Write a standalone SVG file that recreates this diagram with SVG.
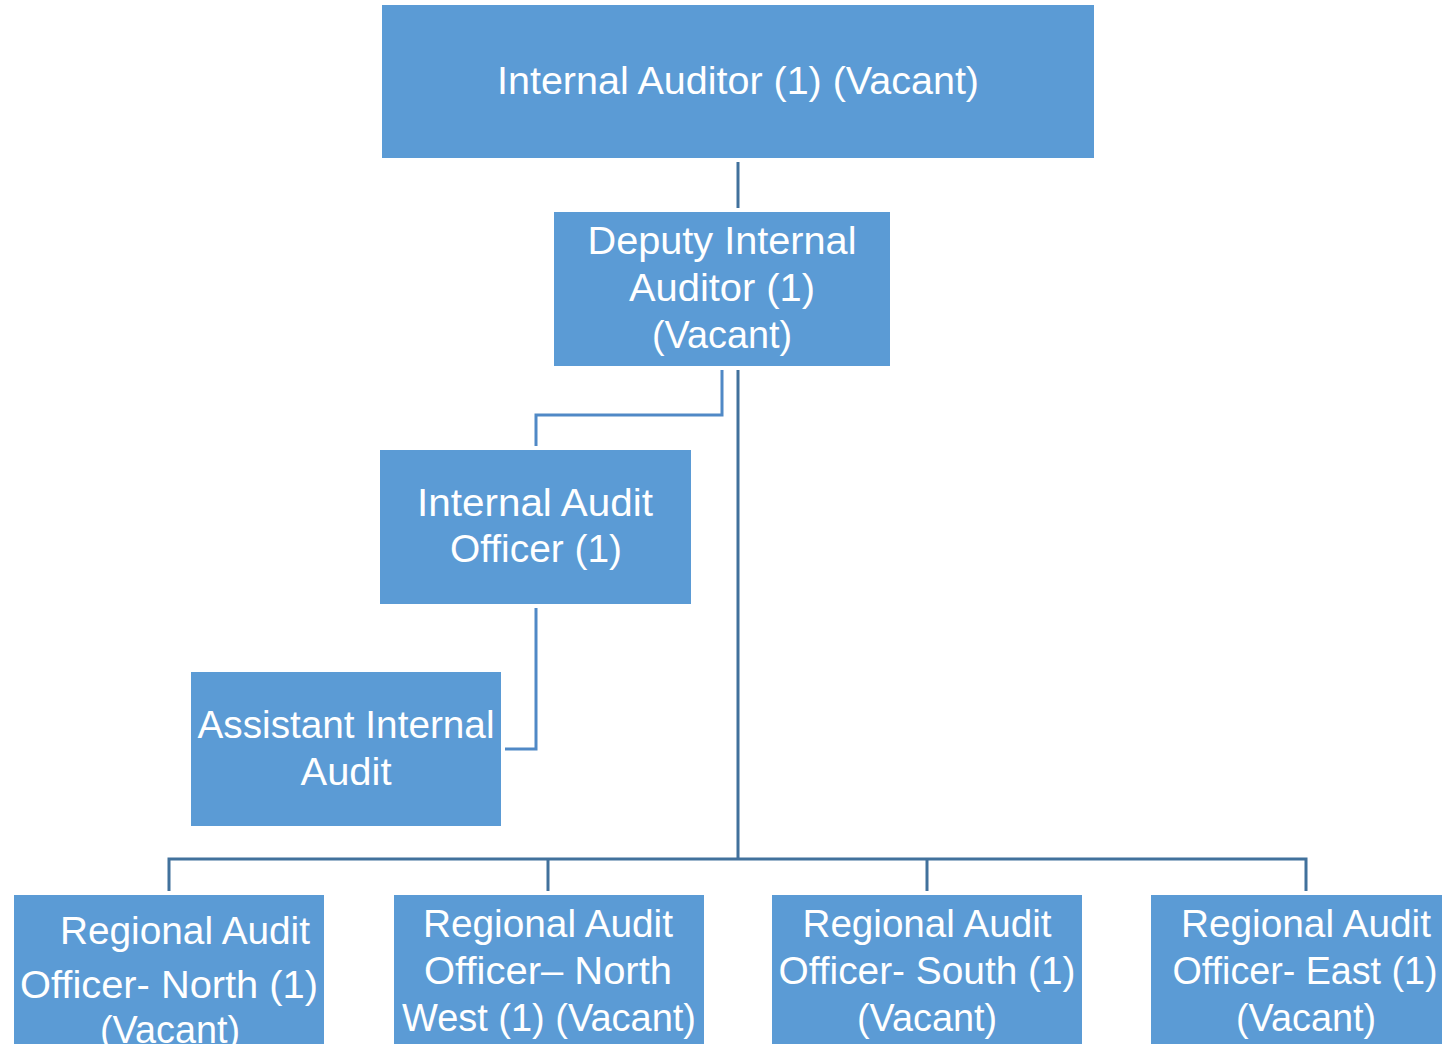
<svg xmlns="http://www.w3.org/2000/svg" width="1442" height="1044" viewBox="0 0 1442 1044">
<style>
.box{fill:#5B9BD5;}
.t{font-family:"Liberation Sans",Arial,sans-serif;font-size:38px;fill:#FFFFFF;text-anchor:middle;}
.c1{stroke:#41719C;stroke-width:3;fill:none;}
.c2{stroke:#5089C6;stroke-width:3;fill:none;}
</style>
<rect width="1442" height="1044" fill="#FFFFFF"/>
<g id="connectors">
<line class="c1" x1="738" y1="162" x2="738" y2="208"/>
<polyline class="c2" points="722,370 722,415 536,415 536,446"/>
<line class="c1" x1="738" y1="370" x2="738" y2="859"/>
<polyline class="c1" points="169,891 169,859 1306,859 1306,891"/>
<line class="c1" x1="548" y1="859" x2="548" y2="891"/>
<line class="c1" x1="927" y1="859" x2="927" y2="891"/>
<polyline class="c2" points="536,608 536,749 505,749"/>
</g>
<g id="internal-auditor">
<rect class="box" x="382" y="5" width="712" height="153"/>
<text class="t" x="738" y="94" textLength="482" lengthAdjust="spacingAndGlyphs">Internal Auditor (1) (Vacant)</text>
</g>
<g id="deputy">
<rect class="box" x="554" y="212" width="336" height="154"/>
<text class="t" x="722" y="254" textLength="269" lengthAdjust="spacingAndGlyphs">Deputy Internal</text>
<text class="t" x="722" y="301" textLength="186" lengthAdjust="spacingAndGlyphs">Auditor (1)</text>
<text class="t" x="722" y="348" textLength="140" lengthAdjust="spacingAndGlyphs">(Vacant)</text>
</g>
<g id="iao">
<rect class="box" x="380" y="450" width="311" height="154"/>
<text class="t" x="535" y="516" textLength="236" lengthAdjust="spacingAndGlyphs">Internal Audit</text>
<text class="t" x="536" y="562" textLength="172" lengthAdjust="spacingAndGlyphs">Officer (1)</text>
</g>
<g id="assistant">
<rect class="box" x="191" y="672" width="310" height="154"/>
<text class="t" x="346" y="738" textLength="297" lengthAdjust="spacingAndGlyphs">Assistant Internal</text>
<text class="t" x="346" y="785" textLength="91" lengthAdjust="spacingAndGlyphs">Audit</text>
</g>
<g id="north">
<rect class="box" x="14" y="895" width="310" height="155"/>
<text class="t" x="185" y="944" textLength="250" lengthAdjust="spacingAndGlyphs">Regional Audit</text>
<text class="t" x="169" y="998" textLength="298" lengthAdjust="spacingAndGlyphs">Officer- North (1)</text>
<text class="t" x="170" y="1043" textLength="140" lengthAdjust="spacingAndGlyphs">(Vacant)</text>
</g>
<g id="northwest">
<rect class="box" x="394" y="895" width="310" height="155"/>
<text class="t" x="548" y="937" textLength="250" lengthAdjust="spacingAndGlyphs">Regional Audit</text>
<text class="t" x="548" y="984" textLength="248" lengthAdjust="spacingAndGlyphs">Officer– North</text>
<text class="t" x="549" y="1031" textLength="294" lengthAdjust="spacingAndGlyphs">West (1) (Vacant)</text>
</g>
<g id="south">
<rect class="box" x="772" y="895" width="310" height="155"/>
<text class="t" x="927" y="937" textLength="249" lengthAdjust="spacingAndGlyphs">Regional Audit</text>
<text class="t" x="927" y="984" textLength="297" lengthAdjust="spacingAndGlyphs">Officer- South (1)</text>
<text class="t" x="927" y="1031" textLength="140" lengthAdjust="spacingAndGlyphs">(Vacant)</text>
</g>
<g id="east">
<rect class="box" x="1151" y="895" width="295" height="155"/>
<text class="t" x="1306" y="937" textLength="250" lengthAdjust="spacingAndGlyphs">Regional Audit</text>
<text class="t" x="1305" y="984" textLength="265" lengthAdjust="spacingAndGlyphs">Officer- East (1)</text>
<text class="t" x="1306" y="1031" textLength="140" lengthAdjust="spacingAndGlyphs">(Vacant)</text>
</g>
</svg>
